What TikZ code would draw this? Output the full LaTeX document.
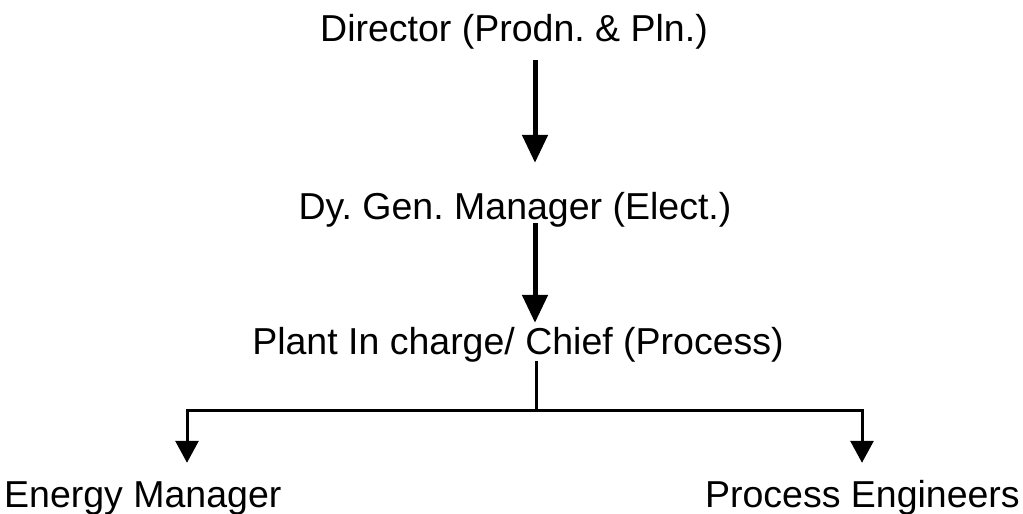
\documentclass[tikz,border=0pt]{standalone}
\usepackage{fontspec}
\setmainfont{Liberation Sans}
\usetikzlibrary{arrows.meta,calc}
\frenchspacing
\begin{document}
\begin{tikzpicture}[x=1pt,y=1pt,
  lbl/.style={inner sep=0pt, text height=27pt, text depth=8pt, font=\fontsize{37.5}{40}\selectfont},
  bigarrow/.style={line width=5pt, -{Triangle[length=28pt,width=25pt]}},
  smallarrow/.style={line width=3pt, -{Triangle[length=22pt,width=23pt]}},
  thinline/.style={line width=3pt}]
\useasboundingbox (0,0) rectangle (1023,514);
\node[lbl, anchor=base] (dir) at (514,472) {Director (Prodn. \& Pln.)};
\node[lbl, anchor=base] (dgm) at (515,294) {Dy. Gen. Manager (Elect.)};
\node[lbl, anchor=base] (pic) at (518,159) {Plant In charge/ Chief (Process)};
\node[lbl, anchor=base west] (em) at (4,6) {Energy Manager};
\node[lbl, anchor=base east] (pe) at (1020,6) {Process Engineers};
\coordinate (ax) at (535,0);
\coordinate (j) at (536,103);
\coordinate (jl) at (187,103);
\coordinate (jr) at (862,103);
\draw[bigarrow] ($(dir.south -| ax)+(0,-10)$) -- ($(dgm.north -| ax)+(0,30)$);
\draw[bigarrow] ($(dgm.south -| ax)+(0,5)$) -- ($(pic.north -| ax)+(0,5)$);
\draw[thinline] ($(pic.south -| j)+(0,2)$) -- (j);
\draw[thinline, line cap=rect] (jl) -- (jr);
\draw[smallarrow] (jl) -- ($(em.north -| jl)+(0,18)$);
\draw[smallarrow] (jr) -- ($(pe.north -| jr)+(0,18)$);
\end{tikzpicture}
\end{document}
